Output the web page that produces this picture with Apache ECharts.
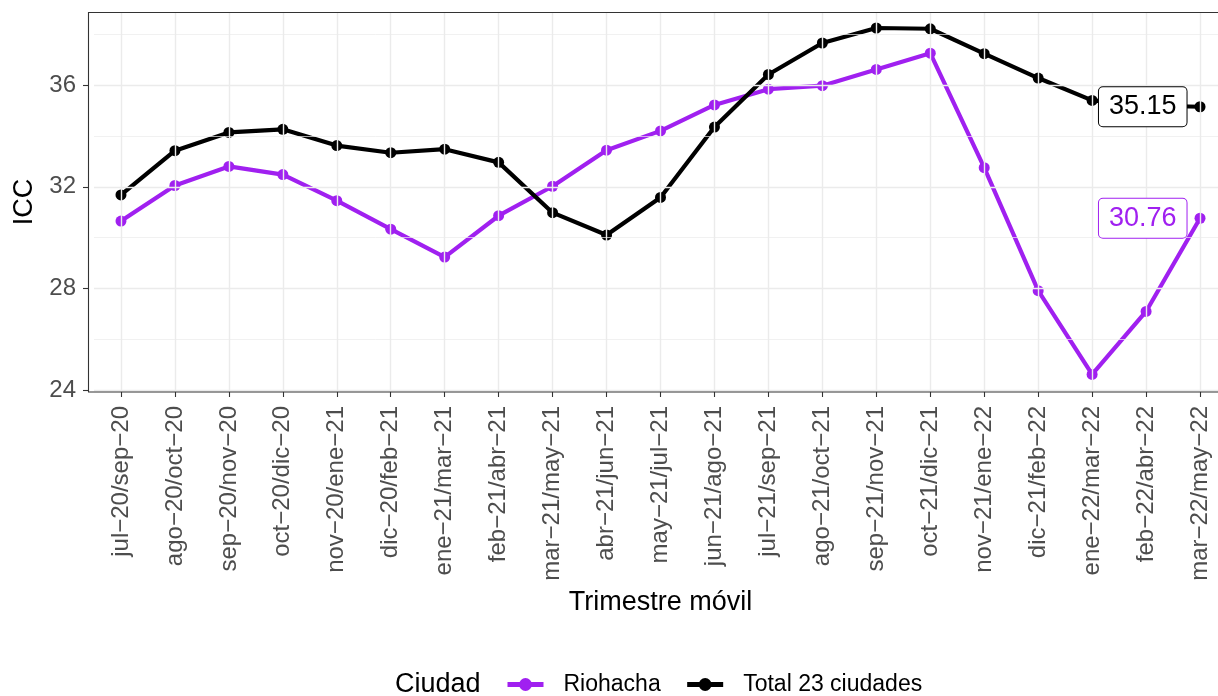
<!DOCTYPE html>
<html>
<head>
<meta charset="utf-8">
<script src="https://cdn.jsdelivr.net/npm/echarts@6/dist/echarts.min.js"></script>
<style>
html,body{margin:0;padding:0;background:#fff;}
#chart{width:1218px;height:696px;}
</style>
</head>
<body>
<div id="chart"></div>
<script>
const cats = [
  'jul−20/sep−20','ago−20/oct−20','sep−20/nov−20','oct−20/dic−20','nov−20/ene−21',
  'dic−20/feb−21','ene−21/mar−21','feb−21/abr−21','mar−21/may−21','abr−21/jun−21',
  'may−21/jul−21','jun−21/ago−21','jul−21/sep−21','ago−21/oct−21','sep−21/nov−21',
  'oct−21/dic−21','nov−21/ene−22','dic−21/feb−22','ene−22/mar−22','feb−22/abr−22',
  'mar−22/may−22'
];
const riohacha = [30.65, 32.05, 32.8, 32.48, 31.45, 30.33, 29.23, 30.86, 32.02, 33.44,
  34.2, 35.22, 35.84, 35.98, 36.62, 37.26, 32.75, 27.91, 24.61, 27.09, 30.76];
const total23 = [31.68, 33.42, 34.14, 34.26, 33.62, 33.34, 33.48, 32.96, 30.98, 30.1,
  31.58, 34.35, 36.42, 37.66, 38.25, 38.22, 37.24, 36.28, 35.4, 35.2, 35.15];
const yTicks = [24, 28, 32, 36];
const yGrid = [24, 26, 28, 30, 32, 34, 36, 38];
const seriesNames = ['Riohacha', 'Total 23 ciudades'];

const FONT = '"Liberation Sans", Arial, Helvetica, sans-serif';
const PURPLE = '#A020F0';

// last value only, for the boxed end labels (drawn on top of everything)
function lastOnly(values) {
  const last = values.length - 1;
  return values.map((v, i) => i === last ? v : null);
}
function labelSeries(values, color) {
  return {
    type: 'scatter', data: lastOnly(values), z: 20, silent: true,
    symbolSize: 1, itemStyle: {color: 'rgba(0,0,0,0)', opacity: 1},
    label: {
      show: true, position: 'left', distance: 13,
      formatter: p => Number(p.value).toFixed(2),
      color: color, fontSize: 27, fontFamily: FONT, lineHeight: 28,
      backgroundColor: '#fff', borderColor: color, borderWidth: 1, borderRadius: 4,
      padding: [6, 10, 5, 10]
    }
  };
}

const chart = echarts.init(document.getElementById('chart'), null, {renderer: 'canvas'});
const option = {
  animation: false,
  backgroundColor: '#fff',
  textStyle: {fontFamily: FONT},
  grid: {left: 94, right: -9, top: 12, bottom: 304, containLabel: false, outerBoundsMode: 'none'},
  graphic: [
    {type: 'rect', z: 50, silent: true,
     shape: {x: 88.5, y: 12.5, width: 1160, height: 379.5},
     style: {fill: 'none', stroke: '#333333', lineWidth: 1.1}},
    {type: 'text', left: 395, top: 671, silent: true,
     style: {text: 'Ciudad', fontSize: 27, fontFamily: FONT, fill: '#000'}}
  ],
  legend: {
    data: seriesNames,
    left: 500, top: 668,
    itemWidth: 36, itemHeight: 16, itemGap: 24,
    lineStyle: {width: 5},
    textStyle: {fontSize: 23, fontFamily: FONT, color: '#000', padding: [0, 0, 0, 15]}
  },
  xAxis: {
    type: 'category', data: cats, boundaryGap: true,
    axisLine: {show: false},
    axisTick: {show: true, alignWithLabel: true, length: 5, lineStyle: {color: '#333333', width: 1.1}},
    axisLabel: {rotate: 90, interval: 0, fontSize: 24, color: '#4D4D4D', margin: 14, fontFamily: FONT},
    splitLine: {show: false},
    name: 'Trimestre móvil', nameLocation: 'middle', nameGap: 195,
    nameTextStyle: {fontSize: 27, color: '#000', fontFamily: FONT}
  },
  yAxis: {
    type: 'value', min: 23.92, max: 38.88, offset: 6,
    axisLine: {show: false},
    axisTick: {show: true, length: 5, customValues: yTicks, lineStyle: {color: '#333333', width: 1.1}},
    axisLabel: {customValues: yTicks, fontSize: 24, color: '#4D4D4D', margin: 12, fontFamily: FONT},
    splitLine: {show: false},
    name: 'ICC', nameLocation: 'middle', nameGap: 50, nameRotate: 90,
    nameTextStyle: {fontSize: 27, color: '#000', fontFamily: FONT}
  },
  series: [
    {
      name: '_grid', type: 'line', data: [], z: 0, silent: true,
      markLine: {
        silent: true, symbol: 'none', animation: false, label: {show: false},
        data: yGrid.map(v => ({yAxis: v, lineStyle: {color: '#EBEBEB', type: 'solid', width: (v % 4 === 0) ? 1.4 : 0.7}}))
          .concat(cats.map(c => ({xAxis: c, lineStyle: {color: '#EBEBEB', type: 'solid', width: 1.4}})))
      }
    },
    {
      name: seriesNames[0], type: 'line', data: riohacha, z: 3,
      color: PURPLE, symbol: 'circle', symbolSize: 11,
      lineStyle: {color: PURPLE, width: 4.2}, itemStyle: {color: PURPLE}
    },
    {
      name: seriesNames[1], type: 'line', data: total23, z: 4,
      color: '#000', symbol: 'circle', symbolSize: 11,
      lineStyle: {color: '#000', width: 4.2}, itemStyle: {color: '#000'}
    },
    labelSeries(riohacha, PURPLE),
    labelSeries(total23, '#000000')
  ]
};
chart.setOption(option);
</script>
</body>
</html>
